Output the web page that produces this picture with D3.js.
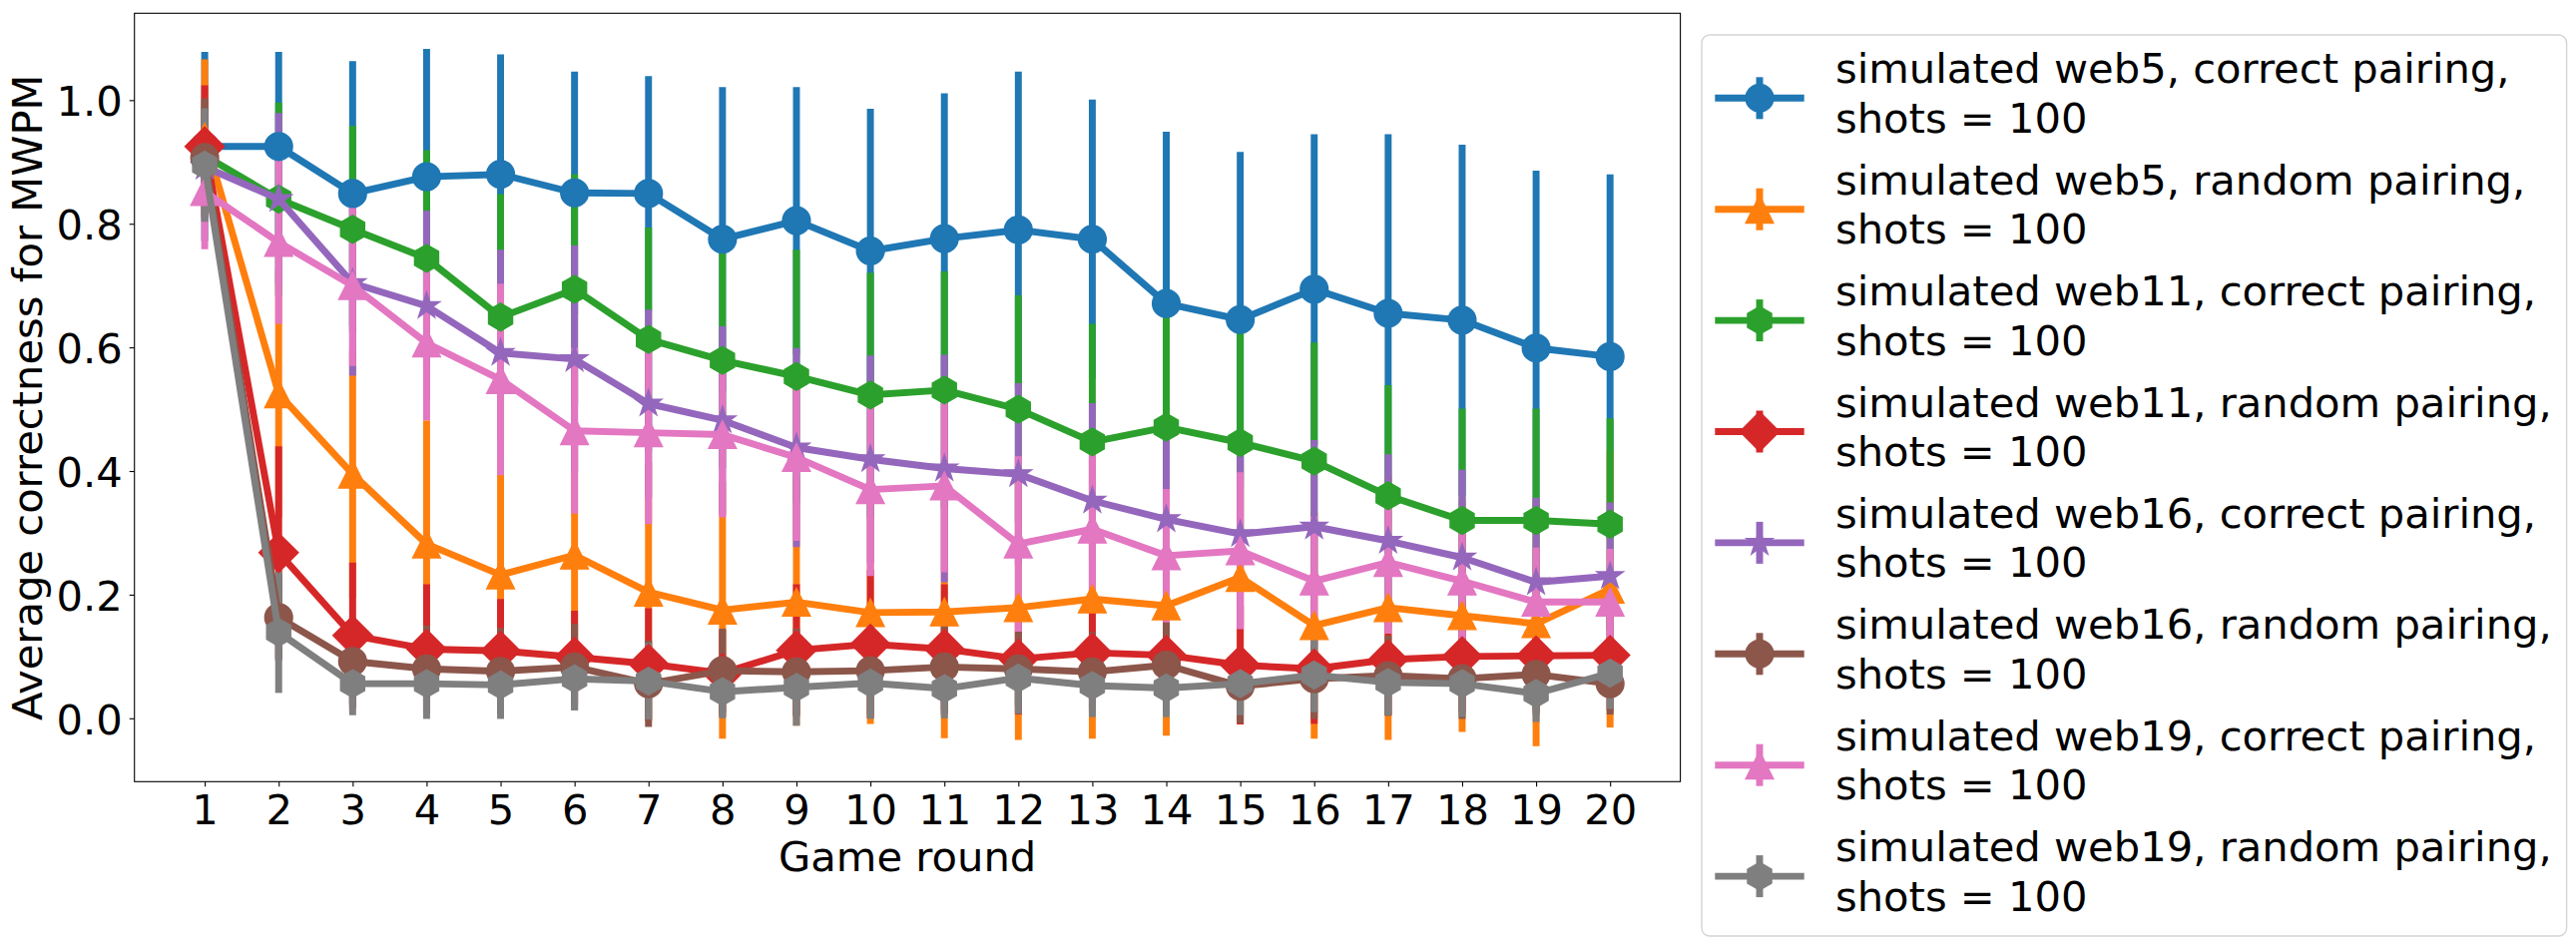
<!DOCTYPE html>
<html><head><meta charset="utf-8">
<script src="https://cdn.jsdelivr.net/npm/d3@7/dist/d3.min.js"></script>
<style>
body{margin:0;background:#fff;}
text{font-family:"DejaVu Sans",sans-serif;}
</style>
</head><body>
<svg id="chart" width="2581" height="948"></svg>
<script>
// ---------------- data ----------------
const rounds = [1,2,3,4,5,6,7,8,9,10,11,12,13,14,15,16,17,18,19,20];
const yTickValues = [0.0,0.2,0.4,0.6,0.8,1.0];
const xAxisLabel = "Game round";
const yAxisLabel = "Average correctness for MWPM";

const seriesLabels = [
  "simulated web5, correct pairing,",
  "simulated web5, random pairing,",
  "simulated web11, correct pairing,",
  "simulated web11, random pairing,",
  "simulated web16, correct pairing,",
  "simulated web16, random pairing,",
  "simulated web19, correct pairing,",
  "simulated web19, random pairing,"
];
const seriesSubLabel = "shots = 100";
const seriesColors = ["#1f77b4","#ff7f0e","#2ca02c","#d62728","#9467bd","#8c564b","#e377c2","#7f7f7f"];
const seriesMarkers = ["o","^","h","D","*","o","^","h"];

const web5CorrectMean = [0.925,0.925,0.849,0.876,0.880,0.850,0.849,0.775,0.805,0.756,0.776,0.790,0.775,0.671,0.645,0.694,0.655,0.644,0.599,0.585];
const web5CorrectErr  = [0.153,0.153,0.214,0.207,0.194,0.196,0.190,0.246,0.216,0.230,0.235,0.256,0.226,0.278,0.271,0.251,0.290,0.284,0.287,0.295];
const web5RandomMean  = [0.940,0.525,0.395,0.282,0.232,0.264,0.204,0.175,0.188,0.171,0.172,0.179,0.193,0.182,0.228,0.150,0.179,0.166,0.153,0.209];
const web5RandomErr   = [0.126,0.200,0.200,0.200,0.190,0.200,0.210,0.208,0.200,0.180,0.204,0.214,0.226,0.210,0.220,0.183,0.214,0.188,0.198,0.224];
const web11CorrectMean = [0.910,0.840,0.791,0.744,0.649,0.694,0.613,0.579,0.553,0.523,0.531,0.500,0.447,0.471,0.446,0.416,0.360,0.320,0.320,0.314];
const web11CorrectErr  = [0.080,0.156,0.167,0.175,0.199,0.186,0.181,0.174,0.205,0.198,0.192,0.184,0.191,0.190,0.200,0.192,0.179,0.181,0.181,0.171];
const web11RandomMean  = [0.925,0.268,0.134,0.112,0.109,0.099,0.088,0.073,0.110,0.120,0.112,0.096,0.106,0.102,0.086,0.080,0.095,0.100,0.101,0.102];
const web11RandomErr   = [0.099,0.172,0.118,0.105,0.084,0.075,0.090,0.070,0.107,0.120,0.105,0.090,0.090,0.090,0.096,0.089,0.090,0.090,0.090,0.090];
const web16CorrectMean = [0.892,0.840,0.704,0.667,0.591,0.581,0.509,0.482,0.438,0.419,0.404,0.395,0.352,0.322,0.298,0.310,0.287,0.260,0.220,0.230];
const web16CorrectErr  = [0.085,0.139,0.150,0.154,0.167,0.184,0.152,0.152,0.161,0.168,0.184,0.147,0.158,0.150,0.150,0.140,0.140,0.142,0.137,0.119];
const web16RandomMean  = [0.907,0.163,0.092,0.080,0.076,0.083,0.056,0.077,0.075,0.077,0.083,0.080,0.075,0.086,0.052,0.064,0.069,0.064,0.071,0.056];
const web16RandomErr   = [0.096,0.070,0.070,0.070,0.070,0.070,0.070,0.068,0.070,0.070,0.070,0.060,0.065,0.069,0.060,0.065,0.065,0.065,0.065,0.050];
const web19CorrectMean = [0.852,0.770,0.700,0.607,0.548,0.465,0.462,0.459,0.422,0.370,0.376,0.282,0.306,0.263,0.271,0.222,0.252,0.222,0.188,0.188];
const web19CorrectErr  = [0.093,0.132,0.130,0.125,0.155,0.134,0.148,0.134,0.135,0.140,0.140,0.142,0.135,0.108,0.127,0.104,0.115,0.096,0.088,0.086];
const web19RandomMean  = [0.895,0.139,0.056,0.056,0.054,0.064,0.060,0.043,0.050,0.057,0.048,0.065,0.053,0.049,0.056,0.070,0.058,0.056,0.040,0.073];
const web19RandomErr   = [0.092,0.098,0.051,0.057,0.055,0.051,0.062,0.043,0.062,0.058,0.048,0.058,0.051,0.047,0.051,0.060,0.053,0.054,0.046,0.058];

const seriesMeans = [web5CorrectMean,web5RandomMean,web11CorrectMean,web11RandomMean,web16CorrectMean,web16RandomMean,web19CorrectMean,web19RandomMean];
const seriesErrs  = [web5CorrectErr,web5RandomErr,web11CorrectErr,web11RandomErr,web16CorrectErr,web16RandomErr,web19CorrectErr,web19RandomErr];

// ---------------- layout ----------------
const FS = 41.67;           // 30pt at 100 dpi
const LW = 6.94;            // 5pt
const MS = 27.78;           // markersize 20pt
const axL = 134.7, axR = 1683.6, axT = 13.3, axB = 783.3;

const svg = d3.select("#chart");
svg.append("rect").attr("width",2581).attr("height",948).attr("fill","#fff");

const x = d3.scaleLinear().domain([0.05, 20.95]).range([axL, axR]);
const y = d3.scaleLinear().domain([-0.1025, 1.1405]).range([axB, axT]);

const series = seriesLabels.map((lab,i)=>({
  label: lab, color: seriesColors[i], marker: seriesMarkers[i],
  pts: rounds.map((r,j)=>({r, m: seriesMeans[i][j], e: seriesErrs[i][j]}))
}));

function markerPath(type, ms){
  const r = ms/2;
  if(type==="o"){
    return `M${r},0A${r},${r} 0 1,1 ${-r},0A${r},${r} 0 1,1 ${r},0Z`;
  }
  if(type==="^"){
    return `M0,${-r}L${-r},${r}L${r},${r}Z`;
  }
  if(type==="D"){
    const h = ms*Math.SQRT1_2;
    return `M0,${-h}L${h},0L0,${h}L${-h},0Z`;
  }
  if(type==="h"){
    const p=[];
    for(let k=0;k<6;k++){const a=-Math.PI/2+k*Math.PI/3;p.push([r*Math.cos(a),r*Math.sin(a)]);}
    return "M"+p.map(d=>d.join(",")).join("L")+"Z";
  }
  if(type==="*"){
    const p=[]; const ri=r*0.381966;
    for(let k=0;k<10;k++){const a=-Math.PI/2+k*Math.PI/5;const rr=k%2?ri:r;p.push([rr*Math.cos(a),rr*Math.sin(a)]);}
    return "M"+p.map(d=>d.join(",")).join("L")+"Z";
  }
}

const plot = svg.append("g");
plot.append("clipPath").attr("id","axclip").append("rect")
  .attr("x",axL).attr("y",axT).attr("width",axR-axL).attr("height",axB-axT);
const inner = plot.append("g").attr("clip-path","url(#axclip)");

// error bars (all, below lines)
series.forEach(s=>{
  inner.append("g").selectAll("line").data(s.pts).join("line")
    .attr("x1",d=>x(d.r)).attr("x2",d=>x(d.r))
    .attr("y1",d=>y(d.m+d.e)).attr("y2",d=>y(d.m-d.e))
    .attr("stroke",s.color).attr("stroke-width",LW).attr("stroke-linecap","butt");
});

// lines + markers
const lineGen = d3.line().x(d=>x(d.r)).y(d=>y(d.m));
series.forEach(s=>{
  const g = inner.append("g");
  g.append("path").datum(s.pts).attr("d",lineGen)
    .attr("fill","none").attr("stroke",s.color).attr("stroke-width",LW)
    .attr("stroke-linejoin","round").attr("stroke-linecap","butt");
  g.selectAll("path.mk").data(s.pts).join("path").attr("class","mk")
    .attr("d",markerPath(s.marker,MS))
    .attr("transform",d=>`translate(${x(d.r)},${y(d.m)})`)
    .attr("fill",s.color).attr("stroke",s.color).attr("stroke-width",1.39)
    .attr("stroke-linejoin","miter");
});

// axes
const xAxis = d3.axisBottom(x).tickValues(rounds).tickFormat(d3.format("d"))
  .tickSize(5).tickSizeOuter(0).tickPadding(8);
const gx = svg.append("g").attr("transform",`translate(0,${axB})`).call(xAxis);
gx.select(".domain").remove();
gx.selectAll(".tick line").attr("stroke","#000").attr("stroke-width",1.1);
gx.selectAll(".tick text").attr("font-size",FS).attr("fill","#000")
  .attr("font-family","DejaVu Sans");

const yAxis = d3.axisLeft(y).tickValues(yTickValues).tickFormat(d3.format(".1f"))
  .tickSize(5).tickSizeOuter(0).tickPadding(7);
const gy = svg.append("g").attr("transform",`translate(${axL},0)`).call(yAxis);
gy.select(".domain").remove();
gy.selectAll(".tick line").attr("stroke","#000").attr("stroke-width",1.1);
gy.selectAll(".tick text").attr("font-size",FS).attr("fill","#000")
  .attr("dy","0.365em").attr("font-family","DejaVu Sans");

// frame
svg.append("rect").attr("x",axL).attr("y",axT).attr("width",axR-axL).attr("height",axB-axT)
  .attr("fill","none").attr("stroke","#000").attr("stroke-width",1.1);

// axis labels
svg.append("text").attr("x",(axL+axR)/2).attr("y",873).attr("text-anchor","middle")
  .attr("font-size",FS).attr("fill","#000").text(xAxisLabel);
svg.append("text").attr("transform",`translate(41.7,${(axT+axB)/2}) rotate(-90)`)
  .attr("text-anchor","middle").attr("font-size",FS).attr("fill","#000").text(yAxisLabel);

// legend
const leg = svg.append("g");
leg.append("rect").attr("x",1705).attr("y",35).attr("width",866.6).attr("height",903)
  .attr("rx",8).attr("ry",8).attr("fill","#fff").attr("fill-opacity",0.8)
  .attr("stroke","#d4d4d4").attr("stroke-width",1.4);
const legStep = 111.4, legY0 = 98.3;
const hx1 = 1718.3, hx2 = 1807.7, hxc = (hx1+hx2)/2;
series.forEach((s,i)=>{
  const cy = legY0 + i*legStep;
  const g = leg.append("g");
  g.append("line").attr("x1",hxc).attr("x2",hxc).attr("y1",cy-21).attr("y2",cy+21)
    .attr("stroke",s.color).attr("stroke-width",LW);
  g.append("line").attr("x1",hx1).attr("x2",hx2).attr("y1",cy).attr("y2",cy)
    .attr("stroke",s.color).attr("stroke-width",LW);
  g.append("path").attr("d",markerPath(s.marker,MS)).attr("transform",`translate(${hxc},${cy})`)
    .attr("fill",s.color).attr("stroke",s.color).attr("stroke-width",1.39);
  const t = g.append("text").attr("font-size",FS).attr("fill","#000");
  t.append("tspan").attr("x",1839).attr("y",cy-15).text(s.label);
  t.append("tspan").attr("x",1839).attr("y",cy+34.5).text(seriesSubLabel);
});
</script>
</body></html>
